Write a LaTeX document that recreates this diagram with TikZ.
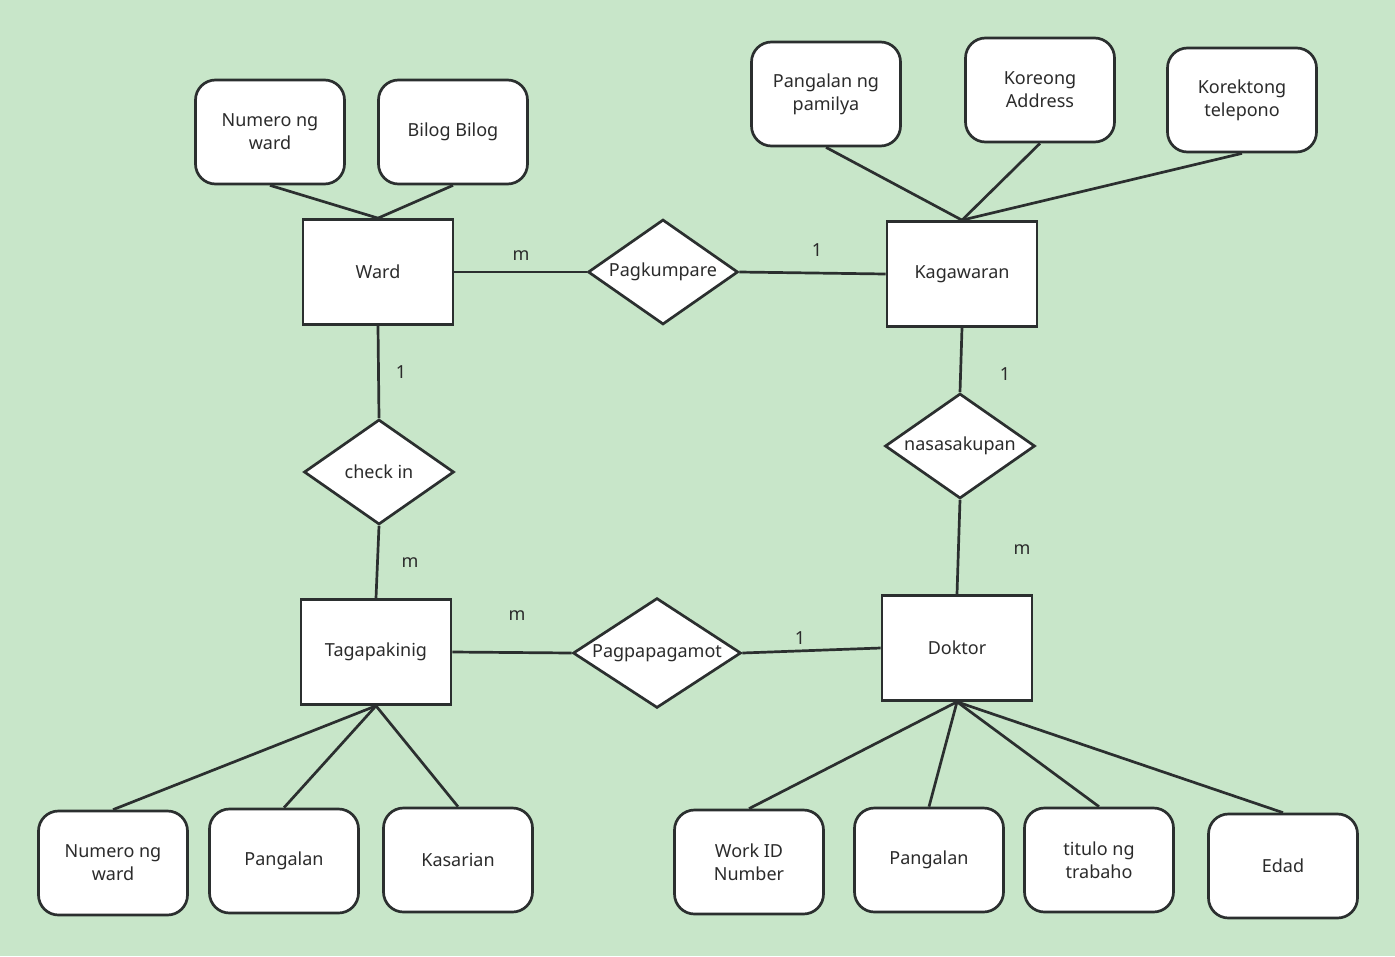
\documentclass[tikz,border=0pt]{standalone}
\usepackage{fontspec}
\setmainfont{Noto Sans}
\usetikzlibrary{shapes.geometric}
\definecolor{bg}{HTML}{C8E6C9}
\definecolor{ln}{HTML}{2B2F2F}
\definecolor{tx}{HTML}{2B2B2B}
\tikzset{
  base/.style={draw=ln, line width=2.7pt, fill=white, text=tx, font=\fontsize{18}{23}\selectfont, align=center, inner sep=0pt},
  attr/.style={base, rectangle, rounded corners=20pt, minimum width=149pt, minimum height=104pt},
  ent/.style={base, rectangle, minimum width=150pt, minimum height=105pt},
  rel/.style={base, diamond, aspect=1.4, minimum width=150pt, minimum height=105pt},
  conn/.style={draw=ln, line width=2.7pt},
  card/.style={text=tx, font=\fontsize{18}{23}\selectfont, inner sep=0pt}
}
\begin{document}
\begin{tikzpicture}[x=1pt,y=-1pt]
\fill[bg] (0,0) rectangle (1395,956);
\useasboundingbox (0,0) rectangle (1395,956);

% entities
\node[ent] (ward) at (378,272) {Ward};
\node[ent] (kag) at (962,274) {Kagawaran};
\node[ent] (tag) at (376,652) {Tagapakinig};
\node[ent] (dok) at (957,648) {Doktor};

% relationships
\node[rel] (pagk) at (663,272) {Pagkumpare};
\node[rel] (nasa) at (960,446) {nasasakupan};
\node[rel] (chk) at (379,472) {check in};
\node[rel, minimum width=168pt, minimum height=106pt] (pagp) at (657,653) {Pagpapagamot};

% attributes
\node[attr] (wnum) at (270,132) {Numero ng\\ward};
\node[attr] (bilog) at (453,132) {Bilog Bilog};
\node[attr] (pam) at (826,94) {Pangalan ng\\pamilya};
\node[attr] (addr) at (1040,90) {Koreong\\Address};
\node[attr] (tel) at (1242,100) {Korektong\\telepono};
\node[attr] (tnum) at (113,863) {Numero ng\\ward};
\node[attr] (tpan) at (284,861) {Pangalan};
\node[attr] (tkas) at (458,860) {Kasarian};
\node[attr] (dwid) at (749,862) {Work ID\\Number};
\node[attr] (dpan) at (929,860) {Pangalan};
\node[attr] (dtit) at (1099,860) {titulo ng\\trabaho};
\node[attr] (dedad) at (1283,866) {Edad};

% connectors
\draw[conn] (wnum.south) -- (ward.north);
\draw[conn] (bilog.south) -- (ward.north);
\draw[conn] (ward.east) -- (pagk.west);
\draw[conn] (pagk.east) -- (kag.west);
\draw[conn] (pam.south) -- (kag.north);
\draw[conn] (addr.south) -- (kag.north);
\draw[conn] (tel.south) -- (kag.north);
\draw[conn] (kag.south) -- (nasa.north);
\draw[conn] (nasa.south) -- (dok.north);
\draw[conn] (ward.south) -- (chk.north);
\draw[conn] (chk.south) -- (tag.north);
\draw[conn] (tag.east) -- (pagp.west);
\draw[conn] (pagp.east) -- (dok.west);
\draw[conn] (tag.south) -- (tnum.north);
\draw[conn] (tag.south) -- (tpan.north);
\draw[conn] (tag.south) -- (tkas.north);
\draw[conn] (dok.south) -- (dwid.north);
\draw[conn] (dok.south) -- (dpan.north);
\draw[conn] (dok.south) -- (dtit.north);
\draw[conn] (dok.south) -- (dedad.north);

% cardinalities
\node[card] (c1) at (521,256) {m};
\node[card] (c2) at (817,250) {1};
\node[card] (c3) at (1005,374) {1};
\node[card] (c4) at (1022,550) {m};
\node[card] (c5) at (401,372) {1};
\node[card] (c6) at (410,563) {m};
\node[card] (c7) at (517,616) {m};
\node[card] (c8) at (800,638) {1};
\end{tikzpicture}
\end{document}
